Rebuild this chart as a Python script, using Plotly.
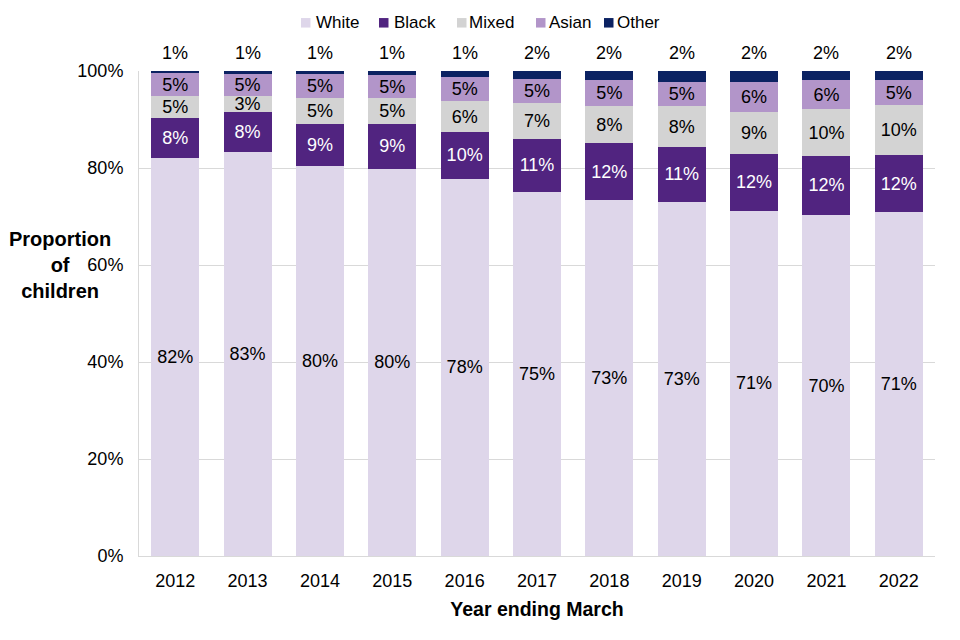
import plotly.graph_objects as go

years = ["2012", "2013", "2014", "2015", "2016", "2017", "2018", "2019", "2020", "2021", "2022"]
white = [82.1, 83.3, 80.4, 79.8, 77.8, 75.1, 73.4, 73.0, 71.2, 70.3, 70.9]
black = [8.2, 8.3, 8.7, 9.3, 9.6, 10.9, 11.7, 11.4, 11.7, 12.2, 11.8]
mixed = [4.6, 3.2, 5.3, 5.4, 6.4, 7.4, 7.7, 8.3, 8.7, 9.6, 10.2]
asian = [4.6, 4.6, 5.0, 4.6, 4.9, 4.9, 5.3, 5.1, 6.1, 6.0, 5.3]
other = [0.6, 0.6, 0.6, 0.9, 1.3, 1.7, 1.9, 2.2, 2.3, 1.9, 1.8]

series = [
    ("White", white, "#DED6EA", "black"),
    ("Black", black, "#512480", "white"),
    ("Mixed", mixed, "#D3D3D3", "black"),
    ("Asian", asian, "#B295C9", "black"),
    ("Other", other, "#0B2262", "white"),
]

FONT = "Liberation Sans, Arial, sans-serif"


def pct(v):
    return f"{int(v + 0.5)}%"


# layout geometry (figure px; page has an 8px body offset)
L, T, PW, PH = 131, 63, 796, 485


def xp(px):
    return (px - L) / PW


def yp(py):
    return (T + PH - py) / PH


fig = go.Figure()
for name, vals, color, tcol in series:
    show_text = name != "Other"
    fig.add_trace(go.Bar(
        x=years, y=vals, name=name,
        marker=dict(color=color, line=dict(width=0)),
        text=[pct(v) for v in vals] if show_text else None,
        textposition="inside" if show_text else "none",
        insidetextanchor="middle",
        textangle=0,
        textfont=dict(family=FONT, size=18, color=tcol),
        hoverinfo="skip",
        showlegend=False,
    ))

annotations = []

# "Other" labels sit above each bar (x given as category index; y kept inside axis range)
totals = [w + b + m + a + o for w, b, m, a, o in zip(white, black, mixed, asian, other)]
for i, (tot, v) in enumerate(zip(totals, other)):
    annotations.append(dict(x=i, y=min(tot, 99.99), xref="x", yref="y", text=pct(v), showarrow=False,
                            yanchor="middle", yshift=18,
                            font=dict(family=FONT, size=18, color="black")))

# legend drawn as shapes + text (compact spacing like the original)
legend_square_left = [293, 371, 449, 528, 596]
legend_text_left = [306, 384, 459, 539, 607]
LEG_Y, SQ = 14.8, 9.5
shapes = []
for (name, _, color, _), sx, tx in zip(series, legend_square_left, legend_text_left):
    shapes.append(dict(type="rect", xref="paper", yref="paper",
                       x0=xp(sx), x1=xp(sx + SQ), y0=yp(LEG_Y + SQ / 2), y1=yp(LEG_Y - SQ / 2),
                       fillcolor=color, line=dict(width=0)))
    annotations.append(dict(text=name, xref="paper", yref="paper", x=xp(tx), y=yp(LEG_Y),
                            xanchor="left", yanchor="middle", showarrow=False,
                            font=dict(family=FONT, size=17, color="black")))

annotations.append(dict(text="<b>Proportion<br>of<br>children</b>", xref="paper", yref="paper",
                        x=xp(52), y=yp(257), xanchor="center", yanchor="middle",
                        showarrow=False, align="center", font=dict(family=FONT, size=20)))

fig.update_layout(
    barmode="stack",
    bargap=0.337,
    width=960, height=640,
    margin=dict(l=L, r=960 - L - PW, t=T, b=640 - T - PH, autoexpand=False),
    paper_bgcolor="white", plot_bgcolor="white",
    font=dict(family=FONT, size=18, color="black"),
    uniformtext=dict(minsize=18, mode="show"),
    showlegend=False,
    xaxis=dict(type="category", range=[-0.5, len(years) - 0.5], showline=True,
               linecolor="#D9D9D9", linewidth=1, ticks="", ticklabelstandoff=8,
               title=dict(text="<b>Year ending March</b>", font=dict(family=FONT, size=19.5), standoff=12),
               tickfont=dict(family=FONT, size=18)),
    yaxis=dict(range=[0, 100], dtick=20, ticksuffix="%", showgrid=True, gridcolor="#D9D9D9",
               showline=True, linecolor="#D9D9D9", zeroline=False, ticklabelstandoff=11,
               tickfont=dict(family=FONT, size=18)),
    shapes=shapes,
    annotations=annotations,
)

fig.write_html("out.html")
